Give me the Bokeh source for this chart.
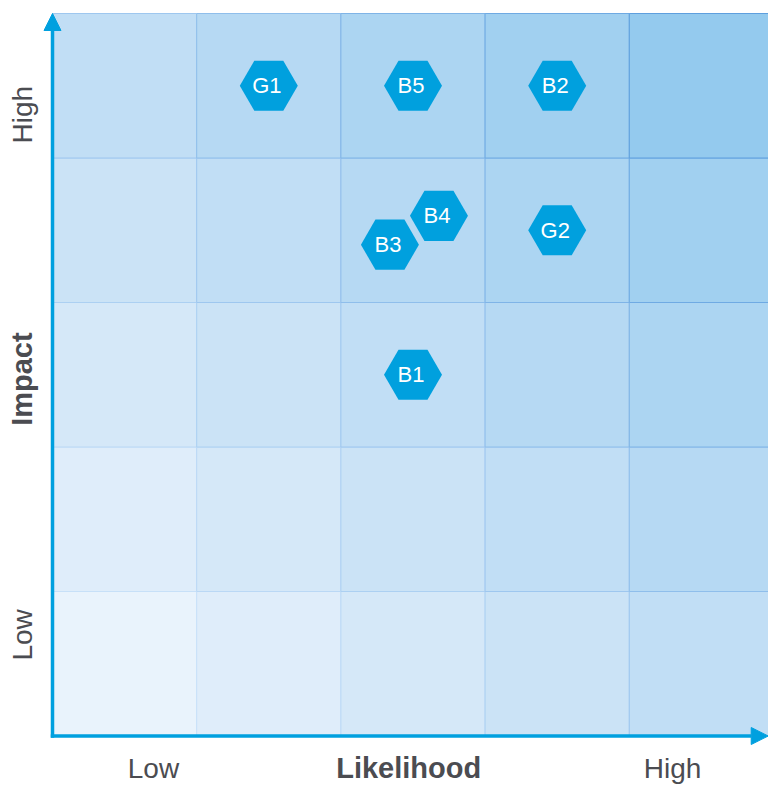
import math
from bokeh.plotting import figure
from bokeh.models import Range1d, Arrow, NormalHead, ColumnDataSource
from bokeh.core.properties import value
from bokeh.embed import file_html
from bokeh.resources import INLINE

# ---------------- data ----------------
likelihood_cats = [1, 2, 3, 4, 5]   # columns, Low -> High
impact_cats = [1, 2, 3, 4, 5]       # rows, Low -> High
# shade level of each cell: rows = impact (low -> high), cols = likelihood (low -> high)
cell_shade = [
    [0, 1, 2, 3, 4],
    [1, 2, 3, 4, 5],
    [2, 3, 4, 5, 6],
    [3, 4, 5, 6, 7],
    [4, 5, 6, 7, 8],
]

risk_labels = ["G1", "B5", "B2", "B4", "B3", "G2", "B1"]
risk_likelihood = [1.5, 2.5, 3.5, 2.68, 2.34, 3.5, 2.5]
risk_impact = [4.5, 4.5, 4.5, 3.6, 3.4, 3.5, 2.5]

tick_labels = ["Low", "High"]
tick_values = [0.7, 4.3]
x_title = "Likelihood"
y_title = "Impact"

# ---------------- styles ----------------
fill_palette = ["#E9F3FC", "#DFEDFA", "#D5E8F8", "#CBE3F6", "#C1DEF5",
                "#B6D9F3", "#ACD5F2", "#A1D0F0", "#94CAEE"]
line_palette = ["#D3E7FA", "#C7E0F8", "#BAD8F5", "#ACD0F2", "#9EC7EF",
                "#8FBEEB", "#7FB4E7", "#6FAAE3", "#5E9FDE"]
AXIS_BLUE = "#00A0DF"
HEX_BLUE = "#00A0DE"
TEXT_GREY = "#4B4C51"
FONT = "Liberation Sans"

# pixel mapping: grid occupies x 52..773, y 13..735.5 on a 768x785 canvas
PX_X = 144.2
PX_Y = 144.5
x0_px, y0_px = 52.0, 735.5
W, H = 768, 785

p = figure(width=W, height=H, title=None,
           x_range=Range1d(-x0_px / PX_X, (W - x0_px) / PX_X),
           y_range=Range1d(-(H - y0_px) / PX_Y, y0_px / PX_Y),
           x_axis_location=None, y_axis_location=None,
           min_border=0, toolbar_location=None, output_backend="svg",
           outline_line_color=None, background_fill_color="white",
           border_fill_color="white")
p.grid.visible = False

# ---------------- cells ----------------
cells = []
for r, imp in enumerate(impact_cats):
    for c, lik in enumerate(likelihood_cats):
        cells.append((cell_shade[r][c], lik - 0.5, imp - 0.5))
cells.sort(key=lambda t: t[0])
cell_src = ColumnDataSource(dict(
    x=[t[1] for t in cells],
    y=[t[2] for t in cells],
    fill=[fill_palette[t[0]] for t in cells],
    line=[line_palette[t[0]] for t in cells],
))
p.rect(x="x", y="y", width=1, height=1, fill_color="fill", line_color="line",
       line_width=1, source=cell_src)

# ---------------- axes with arrows ----------------
p.add_layout(Arrow(end=NormalHead(size=17, fill_color=AXIS_BLUE, line_color=AXIS_BLUE),
                   x_start=0, y_start=-0.012, x_end=0, y_end=len(impact_cats),
                   line_color=AXIS_BLUE, line_width=3.5))
p.add_layout(Arrow(end=NormalHead(size=17, fill_color=AXIS_BLUE, line_color=AXIS_BLUE),
                   x_start=-0.012, y_start=0, x_end=(W - x0_px) / PX_X - 0.002, y_end=0,
                   line_color=AXIS_BLUE, line_width=3.5))

# ---------------- axis labels ----------------
x_lab_y = -(767.5 - y0_px) / PX_Y
y_lab_x = (21.5 - x0_px) / PX_X
p.text(x=tick_values, y=[x_lab_y] * len(tick_values), text=tick_labels,
       text_align="center", text_baseline="middle",
       text_font=value(FONT), text_font_size="28px", text_color=TEXT_GREY)
p.text(x=[2.47], y=[x_lab_y], text=[x_title],
       text_align="center", text_baseline="middle", text_font_style="bold",
       text_font=value(FONT), text_font_size="29px", text_color=TEXT_GREY)
p.text(x=[y_lab_x] * len(tick_values), y=tick_values, text=tick_labels, angle=math.pi / 2,
       text_align="center", text_baseline="middle",
       text_font=value(FONT), text_font_size="28px", text_color=TEXT_GREY)
p.text(x=[y_lab_x], y=[2.47], text=[y_title], angle=math.pi / 2,
       text_align="center", text_baseline="middle", text_font_style="bold",
       text_font=value(FONT), text_font_size="29px", text_color=TEXT_GREY)

# ---------------- risks ----------------
risk_src = ColumnDataSource(dict(x=risk_likelihood, y=risk_impact, label=risk_labels))
p.scatter(x="x", y="y", marker="hex", size=58, fill_color=HEX_BLUE, line_color=None,
          source=risk_src)
p.text(x="x", y="y", text="label", source=risk_src, x_offset=-2,
       text_align="center", text_baseline="middle",
       text_font=value(FONT), text_font_size="22px", text_color="white")

open("out.html", "w").write(file_html(p, INLINE))
